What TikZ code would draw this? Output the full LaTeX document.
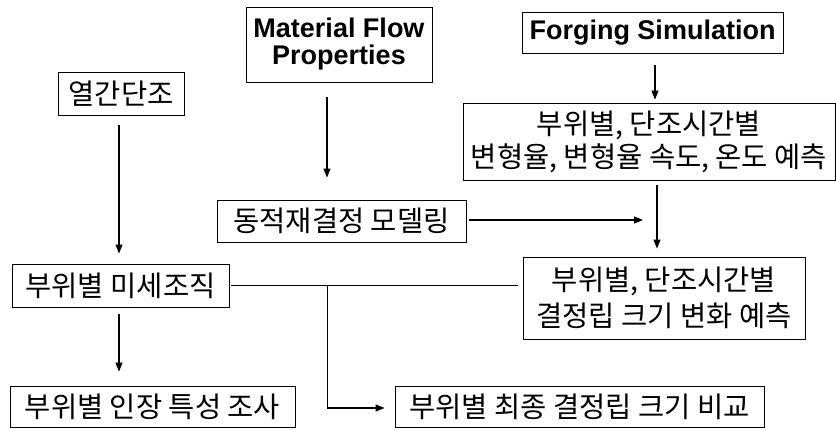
\documentclass[tikz,border=0pt]{standalone}
\usepackage{fontspec}
\setmainfont{Liberation Sans}
\newfontfamily\kr{Noto Sans CJK KR}
\usetikzlibrary{arrows.meta,calc}
\begin{document}
\begin{tikzpicture}[x=1pt,y=-1pt,
  box/.style={draw, line width=0.9pt, inner sep=0pt, align=center,
    font=\kr\fontsize{28.5}{33}\selectfont},
  ebox/.style={draw, line width=0.9pt, inner sep=0pt, align=center,
    font=\bfseries\fontsize{27}{27}\selectfont},
  arr/.style={line width=1.1pt, -{Triangle[length=9pt,width=7pt]}},
  ln/.style={line width=1.1pt}]
\useasboundingbox (0,0) rectangle (836,429);
\node[box, minimum width=126pt, minimum height=43pt] (hot) at (121,93.5) {열간단조};
\node[ebox, minimum width=186pt, minimum height=75pt] (mfp) at (339,44.5) {Material Flow\\Properties};
\node[ebox, minimum width=261pt, minimum height=41pt] (fs) at (652.5,32.5) {Forging Simulation};
\node[box, minimum width=372pt, minimum height=77pt] (pred1) at (649,141.5) {부위별, 단조시간별\\변형율, 변형율 속도, 온도 예측};
\node[box, minimum width=249pt, minimum height=42pt] (drx) at (341.5,221) {동적재결정 모델링};
\node[box, minimum width=217pt, minimum height=43pt] (micro) at (120.5,285.5) {부위별 미세조직};
\node[box, minimum width=282pt, minimum height=82pt, font=\kr\fontsize{28.5}{36}\selectfont] (pred2) at (664,298) {부위별, 단조시간별\\결정립 크기 변화 예측};
\node[box, minimum width=285pt, minimum height=41pt] (tens) at (152.5,406.5) {부위별 인장 특성 조사};
\node[box, minimum width=369pt, minimum height=41pt] (final) at (579.5,406.5) {부위별 최종 결정립 크기 비교};

\draw[arr] ($(hot.south)+(-2,10)$) -- ($(hot.south |- micro.north)+(-2,-10)$);
\draw[arr] ($(mfp.south)+(-12,15)$) -- ($(mfp.south |- drx.north)+(-12,-22)$);
\draw[arr] ($(fs.south)+(2.5,12)$) -- ($(fs.south |- pred1.north)+(2.5,-3)$);
\draw[arr] ($(pred1.south)+(8,5)$) -- ($(pred1.south |- pred2.north)+(8,-8)$);
\draw[arr] ($(drx.east)+(3,-1)$) -- ($(drx.east -| pred1.south)+(-6,-1)$);
\draw[arr] ($(micro.south)+(-1.5,7)$) -- ($(micro.south |- tens.north)+(-1.5,-14)$);
\draw[ln] ($(micro.east)+(2,0)$) -- ($(micro.east -| pred2.west)+(-5,0)$);
\coordinate (br) at ($(micro.east)+(98,0)$);
\draw[arr] (br) |- ($(final.west)+(-10,1.5)$);
\end{tikzpicture}
\end{document}
